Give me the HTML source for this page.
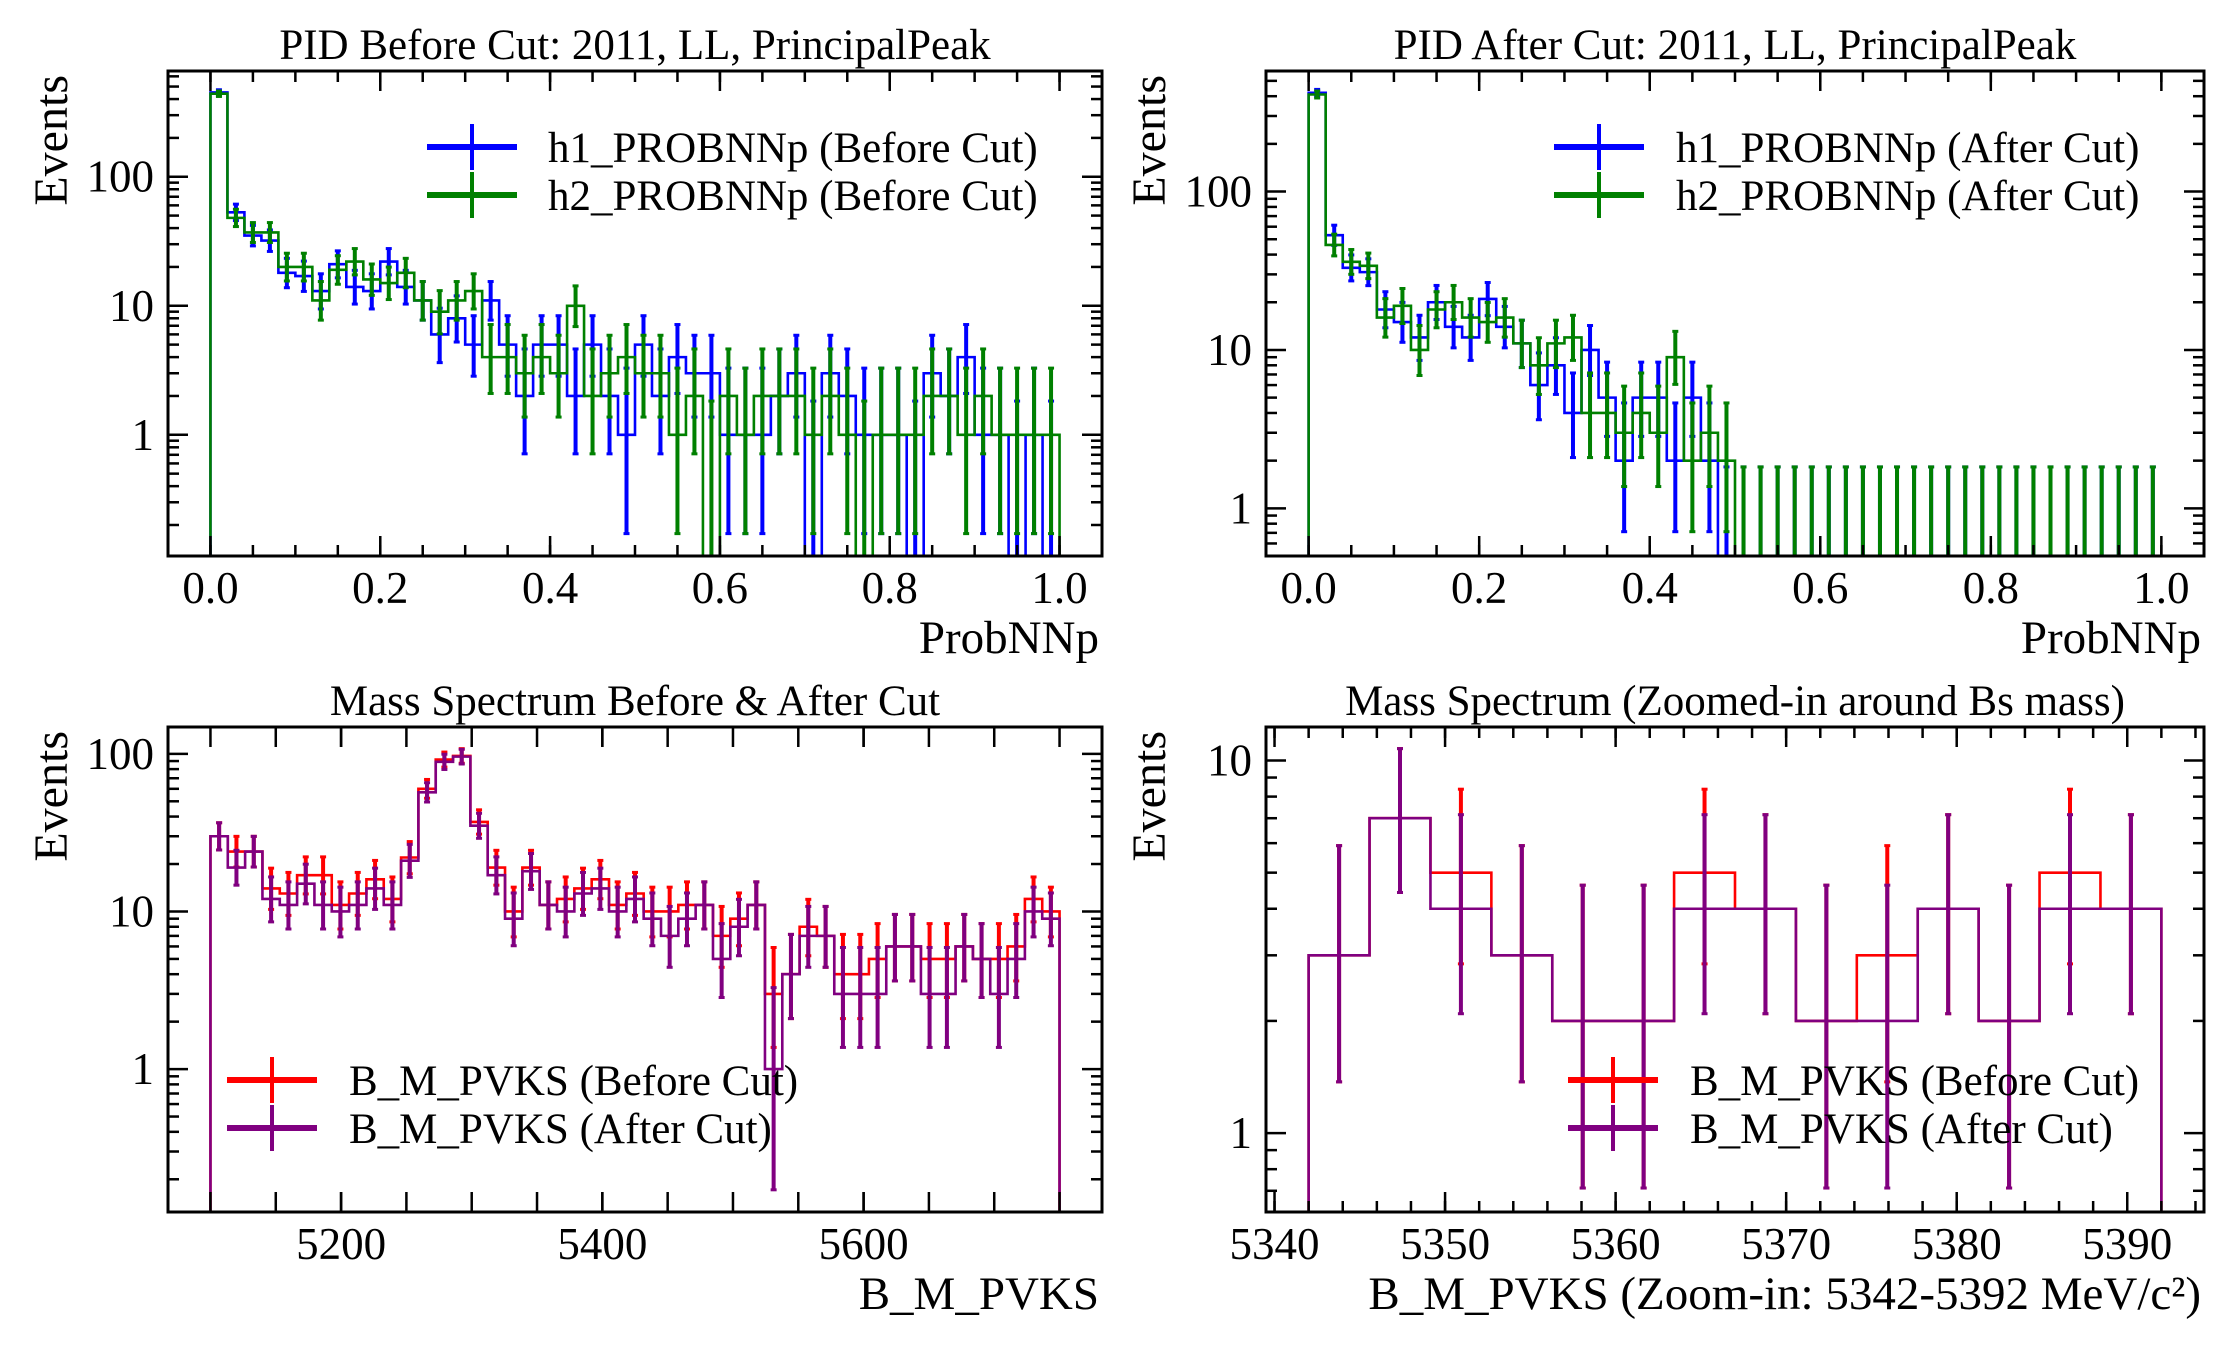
<!DOCTYPE html>
<html><head><meta charset="utf-8">
<style>
html,body{margin:0;padding:0;background:#fff;}
svg{display:block;font-family:"Liberation Serif",serif;}
</style></head>
<body>
<svg id="fig" width="2230" height="1350" viewBox="0 0 2230 1350" xmlns="http://www.w3.org/2000/svg"></svg>
<script>
// ---------- Data ----------
const pidEdgesLo = 0, pidEdgesHi = 1, pidBins = 50;
const pidBeforeH1 = [450,53,35,32,18,17,13,21,14,13,22,14,11,6,8,5,11,5,2,5,5,2,5,2,1,5,2,4,3,3,1,1,1,2,3,0,3,2,1,1,1,0,3,2,4,1,1,0,1,0];
const pidBeforeH2 = [440,48,37,37,20,20,11,19,22,16,15,18,11,9,11,13,4,4,3,4,3,10,2,3,4,3,3,1,2,0,2,1,2,2,2,1,2,1,0,1,1,1,2,2,1,2,1,1,1,1];
const pidAfterH1 = [420,53,33,31,18,15,12,20,14,12,21,14,11,6,8,4,10,5,2,5,5,2,5,2,0,0,0,0,0,0,0,0,0,0,0,0,0,0,0,0,0,0,0,0,0,0,0,0,0,0];
const pidAfterH2 = [410,46,36,34,16,19,10,18,20,16,15,16,11,8,11,12,4,4,3,4,3,9,2,3,2,0,0,0,0,0,0,0,0,0,0,0,0,0,0,0,0,0,0,0,0,0,0,0,0,0];
const massLo = 5100, massHi = 5750;
const massBefore = [30,24,24,14,13,17,17,11,13,16,12,22,60,92,97,37,19,10,19,11,12,14,16,11,13,10,10,11,11,7,9,11,3,4,8,7,4,4,5,6,6,5,5,6,5,5,6,12,10];
const massAfter  = [30,19,24,12,11,15,11,10,11,14,11,21,57,89,96,35,17,9,18,11,10,13,14,10,12,9,7,9,11,5,8,11,1,4,7,7,3,3,3,6,6,3,3,6,5,3,5,10,9];
const zoomLo = 5342, zoomHi = 5392;
const zoomBefore = [3,7,5,3,2,2,5,4,2,3,4,2,5,4];
const zoomAfter  = [3,7,4,3,2,2,4,4,2,2,4,2,4,4];
const pidXTicks = [0,0.2,0.4,0.6,0.8,1.0];
const pidXTickLabels = ["0.0","0.2","0.4","0.6","0.8","1.0"];
const massXTicks = [5200,5400,5600];
const zoomXTicks = [5340,5350,5360,5370,5380,5390];

const NS="http://www.w3.org/2000/svg";
const svg=document.getElementById('fig');
function mk(tag,attrs,parent){const e=document.createElementNS(NS,tag);for(const k in attrs)e.setAttribute(k,attrs[k]);(parent||svg).appendChild(e);return e;}

// Poisson (Garwood, Wilson-Hilferty approx) interval limits
function limLo(n){ if(n<=0) return 0; return n*Math.pow(1-1/(9*n)-1/(3*Math.sqrt(n)),3); }
function limHi(n){ const m=n+1; return m*Math.pow(1-1/(9*m)+1/(3*Math.sqrt(m)),3); }

let clipId=0;
function panel(cfg){
  const g=mk('g',{});
  
  
  const L=cfg.box[0],T=cfg.box[1],R=cfg.box[2],B=cfg.box[3];
  const xs=v=>L+(v-cfg.xlim[0])/(cfg.xlim[1]-cfg.xlim[0])*(R-L);
  const ly0=Math.log10(cfg.ylim[0]),ly1=Math.log10(cfg.ylim[1]);
  const ys=v=>B-(Math.log10(v)-ly0)/(ly1-ly0)*(B-T);
  const cid='clip'+(clipId++);
  const defs=mk('defs',{},g);
  const cp=mk('clipPath',{id:cid},defs);
  mk('rect',{x:L,y:T,width:R-L,height:B-T},cp);
  const plot=mk('g',{'clip-path':'url(#'+cid+')'},g);
  cfg.series.forEach(s=>{
    const n=s.vals.length,w=(cfg.hi-cfg.lo)/n;
    const yv=v=>v>0?ys(v):B+20;
    let d='M'+xs(cfg.lo)+','+(B+20);
    for(let i=0;i<n;i++){
      const y=yv(s.vals[i]);
      d+=' L'+xs(cfg.lo+i*w)+','+y+' L'+xs(cfg.lo+(i+1)*w)+','+y;
    }
    d+=' L'+xs(cfg.hi)+','+(B+20);
    const p=mk('path',{d:d,fill:'none',stroke:s.color,'stroke-width':2.6},plot);
    
    
    for(let i=0;i<n;i++){
      const v=s.vals[i],cx=xs(cfg.lo+(i+0.5)*w);
      const lo=limLo(v),hi=limHi(v);
      const y1=lo>0?ys(lo):B+20,y2=ys(hi);
      const e=mk('line',{x1:cx,x2:cx,y1:y1,y2:y2,stroke:s.color,'stroke-width':4},plot);
      
      
      mk('line',{x1:cx-3,x2:cx+3,y1:y2,y2:y2,stroke:s.color,'stroke-width':3},plot);
      if(lo>0) mk('line',{x1:cx-3,x2:cx+3,y1:y1,y2:y1,stroke:s.color,'stroke-width':3},plot);
    }
  });
  const fr=mk('rect',{x:L,y:T,width:R-L,height:B-T,fill:'none',stroke:'#000','stroke-width':3},g);
  
  
  const tk=mk('g',{stroke:'#000','stroke-width':2.5},g);
  cfg.xMinor.forEach(v=>{const x=xs(v);mk('line',{x1:x,x2:x,y1:B,y2:B-cfg.minorLen},tk);mk('line',{x1:x,x2:x,y1:T,y2:T+cfg.minorLen},tk);});
  cfg.xTicks.forEach((v,i)=>{
    const x=xs(v);
    mk('line',{x1:x,x2:x,y1:B,y2:B-20},tk);mk('line',{x1:x,x2:x,y1:T,y2:T+20},tk);
    const t=mk('text',{x:x,y:B+47,'text-anchor':'middle','font-size':45},g);
    t.textContent=cfg.xLabels?cfg.xLabels[i]:String(v);
    
    
  });
  for(let dec=-2;dec<=3;dec++){
    for(let m=1;m<10;m++){
      const v=m*Math.pow(10,dec);
      if(v<cfg.ylim[0]||v>cfg.ylim[1]) continue;
      const y=ys(v),len=m===1?20:11;
      mk('line',{x1:L,x2:L+len,y1:y,y2:y},tk);mk('line',{x1:R,x2:R-len,y1:y,y2:y},tk);
      if(m===1){
        const t=mk('text',{x:L-14,y:y+15,'text-anchor':'end','font-size':45},g);
        t.textContent=String(v);
        
        
      }
    }
  }
  const tt=mk('text',{x:(L+R)/2,y:T-12,'text-anchor':'middle','font-size':43},g);
  tt.textContent=cfg.title;
  
  
  const xl=mk('text',{x:R-3,y:B+97,'text-anchor':'end','font-size':47},g);
  xl.textContent=cfg.xlabel;
  
  
  const yl=mk('text',{x:0,y:0,'text-anchor':'end','font-size':48,transform:'translate('+(L-101)+','+(T+4)+') rotate(-90)'},g);
  yl.textContent='Events';
  
  
  cfg.series.forEach((s,i)=>{
    const y=cfg.leg[2]+i*48,x0=cfg.leg[0];
    const lg=mk('g',{},g);
    
    
    mk('line',{x1:x0,x2:x0+90,y1:y,y2:y,stroke:s.color,'stroke-width':6},lg);
    mk('line',{x1:x0+45,x2:x0+45,y1:y-23,y2:y+23,stroke:s.color,'stroke-width':4},lg);
    const t=mk('text',{x:cfg.leg[1],y:y+15,'font-size':43},lg);
    t.textContent=s.label;
  });
}
function range(a,b,s){const r=[];for(let v=a;v<=b+1e-9;v+=s)r.push(+v.toFixed(6));return r;}

panel({name:'pid-before-panel',box:[168,71,1102,556],xlim:[-0.05,1.05],ylim:[0.115,660],lo:pidEdgesLo,hi:pidEdgesHi,
  series:[{id:'h1',color:'#0000ff',vals:pidBeforeH1,label:'h1_PROBNNp (Before Cut)'},{id:'h2',color:'#008000',vals:pidBeforeH2,label:'h2_PROBNNp (Before Cut)'}],
  xTicks:pidXTicks,xLabels:pidXTickLabels,xMinor:range(0,1,0.05),minorLen:11,title:'PID Before Cut: 2011, LL, PrincipalPeak',xlabel:'ProbNNp',leg:[427,548,147]});
panel({name:'pid-after-panel',box:[1266,71,2204,556],xlim:[-0.05,1.05],ylim:[0.5,577],lo:pidEdgesLo,hi:pidEdgesHi,
  series:[{id:'h1',color:'#0000ff',vals:pidAfterH1,label:'h1_PROBNNp (After Cut)'},{id:'h2',color:'#008000',vals:pidAfterH2,label:'h2_PROBNNp (After Cut)'}],
  xTicks:pidXTicks,xLabels:pidXTickLabels,xMinor:range(0,1,0.05),minorLen:11,title:'PID After Cut: 2011, LL, PrincipalPeak',xlabel:'ProbNNp',leg:[1554,1676,147]});
panel({name:'mass-panel',box:[168,727,1102,1212],xlim:[5067.5,5782.5],ylim:[0.124,148],lo:massLo,hi:massHi,
  series:[{id:'before',color:'#ff0000',vals:massBefore,label:'B_M_PVKS (Before Cut)'},{id:'after',color:'#800080',vals:massAfter,label:'B_M_PVKS (After Cut)'}],
  xTicks:massXTicks,xMinor:range(5100,5750,50),minorLen:20,title:'Mass Spectrum Before & After Cut',xlabel:'B_M_PVKS',leg:[227,349,1080]});
panel({name:'zoom-panel',box:[1266,727,2204,1212],xlim:[5339.5,5394.5],ylim:[0.614,12.3],lo:zoomLo,hi:zoomHi,
  series:[{id:'before',color:'#ff0000',vals:zoomBefore,label:'B_M_PVKS (Before Cut)'},{id:'after',color:'#800080',vals:zoomAfter,label:'B_M_PVKS (After Cut)'}],
  xTicks:zoomXTicks,xMinor:range(5340,5394,2),minorLen:11,title:'Mass Spectrum (Zoomed-in around Bs mass)',xlabel:'B_M_PVKS (Zoom-in: 5342-5392 MeV/c²)',leg:[1568,1690,1080]});
</script>
</body></html>
